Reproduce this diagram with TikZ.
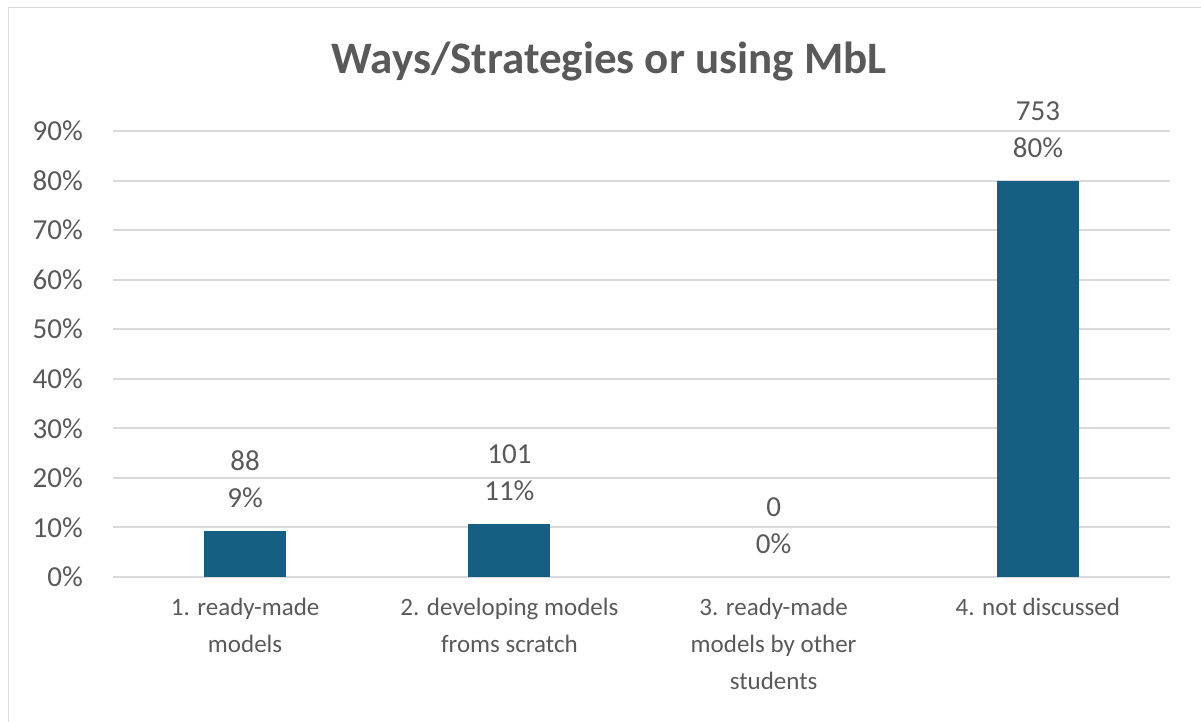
\documentclass[tikz,border=0pt]{standalone}
\usepackage{fontspec}
\setmainfont{Carlito}
\usetikzlibrary{positioning,calc}
\definecolor{barblue}{HTML}{156082}
\definecolor{txtgray}{HTML}{595959}
\definecolor{gridgray}{HTML}{D9D9D9}

\begin{document}
\begin{tikzpicture}[x=1pt, y=-1pt,
    numlbl/.style={text=txtgray, font=\fontsize{29}{34}\selectfont, inner sep=0pt},
    catlbl/.style={text=txtgray, font=\fontsize{25}{37}\selectfont, inner sep=0pt, align=center, anchor=north},
    gridline/.style={gridgray, line width=2pt}]
    \useasboundingbox (0,0) rectangle (1201,722);
    \clip (0,0) rectangle (1201,722);

    % Chart frame (right and bottom edges fall outside the picture)
    \draw[gridgray, line width=1.5pt] (8.5,7.5) rectangle (1215,735);

    % Title
    \node[text=txtgray, font=\fontsize{45}{54}\selectfont\bfseries] (title) at (609,62) {Ways/Strategies or using MbL};

    % Gridlines and percentage axis
    \foreach \k in {0,...,9}{
        \pgfmathtruncatemacro\pc{10*\k}
        \coordinate (gl\k) at (113,{577-49.56*\k});
        \coordinate (gr\k) at (1170,{577-49.56*\k});
        \draw[gridline] (gl\k) -- (gr\k);
        \node[numlbl, anchor=east] (tick\k) at ($(gl\k)+(-30,0)$) {\pc\%};
    }

    % Bars with count and share labels
    \foreach \i/\xc/\val/\cnt/\pct in {1/245.1/9.342/88/9, 2/509.4/10.72/101/11, 3/773.6/0/0/0, 4/1037.9/79.94/753/80}{
        \coordinate (base\i) at (\xc,577);
        \coordinate (top\i) at (\xc,{577-4.956*\val});
        \ifnum\cnt>0
            \fill[barblue] ($(base\i)+(-41,0)$) rectangle ($(top\i)+(41,0)$);
        \fi
        \node[numlbl] (pct\i) at ($(top\i)+(0,-33)$) {\pct\%};
        \node[numlbl] (cnt\i) at ($(top\i)+(0,-70)$) {\cnt};
    }

    % Category labels
    \node[catlbl] (cat1) at ($(base1)+(0,21)$) {1. ready-made\\models};
    \node[catlbl] (cat2) at ($(base2)+(0,21)$) {2. developing models\\froms scratch};
    \node[catlbl] (cat3) at ($(base3)+(0,21)$) {3. ready-made\\models by other\\students};
    \node[catlbl] (cat4) at ($(base4)+(0,21)$) {4. not discussed};
\end{tikzpicture}
\end{document}
